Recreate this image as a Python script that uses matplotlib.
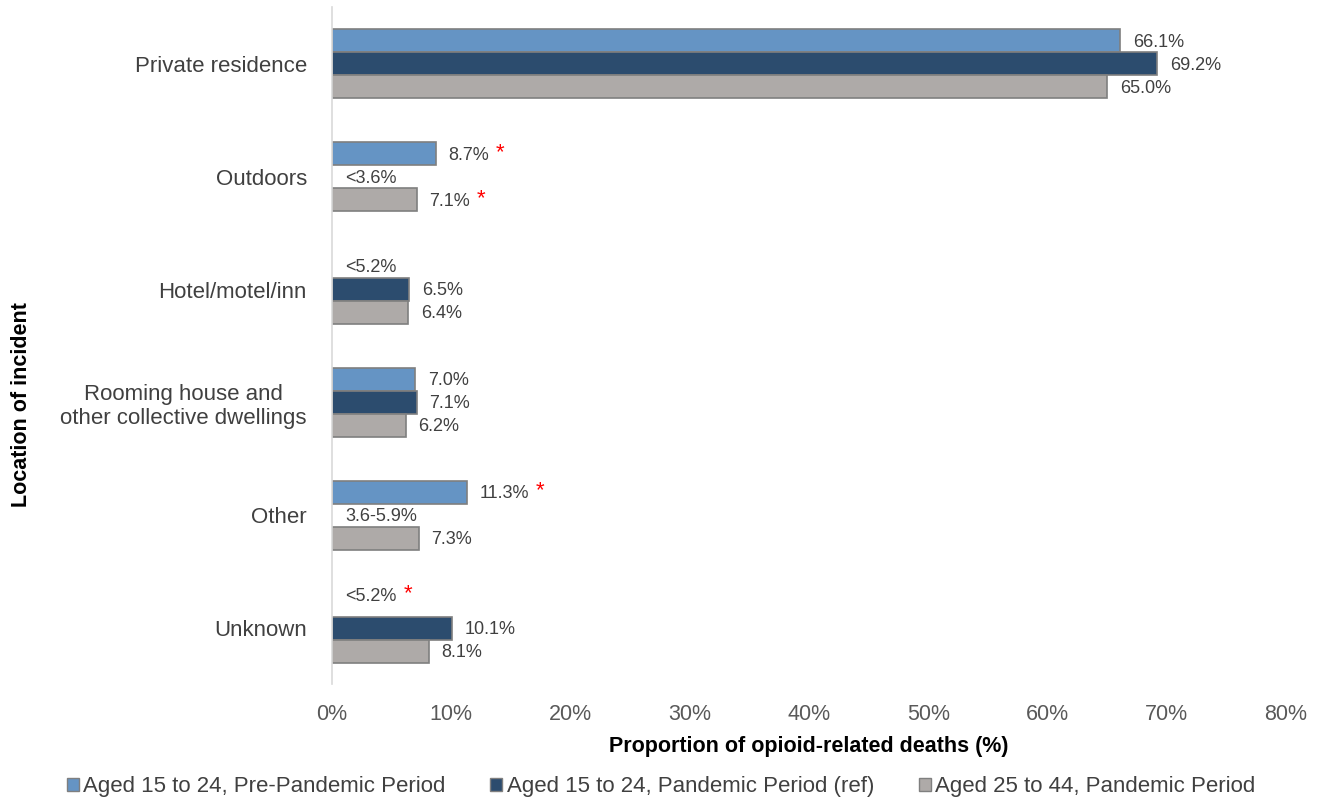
import matplotlib.pyplot as plt
from matplotlib.patches import Patch

plt.rcParams['font.family'] = ['Liberation Sans', 'DejaVu Sans']

categories = ['Private residence', 'Outdoors', 'Hotel/motel/inn',
              'Rooming house and\nother collective dwellings', 'Other', 'Unknown']
series_names = ['Aged 15 to 24, Pre-Pandemic Period',
                'Aged 15 to 24, Pandemic Period (ref)',
                'Aged 25 to 44, Pandemic Period']

# None = suppressed value (no bar drawn, only the label)
pre_1524 = [66.1, 8.7, None, 7.0, 11.3, None]
pan_1524 = [69.2, None, 6.5, 7.1, None, 10.1]
pan_2544 = [65.0, 7.1, 6.4, 6.2, 7.3, 8.1]

pre_labels = ['66.1%', '8.7%', '<5.2%', '7.0%', '11.3%', '<5.2%']
pan_labels = ['69.2%', '<3.6%', '6.5%', '7.1%', '3.6-5.9%', '10.1%']
old_labels = ['65.0%', '7.1%', '6.4%', '6.2%', '7.3%', '8.1%']

pre_star = [False, True, False, False, True, True]
pan_star = [False, False, False, False, False, False]
old_star = [False, True, False, False, False, False]

colors = ['#6594C4', '#2C4C6E', '#AEAAA8']
edge = '#7F7F7F'

fig = plt.figure(figsize=(13.22, 8.05), dpi=100)
ax = fig.add_axes([0.2511, 0.1497, 0.9728 - 0.2511, 0.9907 - 0.1497])

h = 0.204
all_vals = [pre_1524, pan_1524, pan_2544]
all_labels = [pre_labels, pan_labels, old_labels]
all_stars = [pre_star, pan_star, old_star]

for j in range(3):
    for i in range(len(categories)):
        y = i + (j - 1) * h
        v = all_vals[j][i]
        if v is not None:
            ax.barh(y, v, height=h, color=colors[j], edgecolor=edge, linewidth=1.2)
            x0, dx = v, 9
        else:
            x0, dx = 0, 9.5
        dy = 0
        if v is None and i == 5:
            dy = 7
        t = ax.annotate(all_labels[j][i], xy=(x0, y), xytext=(dx, -1 + dy),
                        textcoords='offset points', va='center', ha='left',
                        fontsize=13, color='#404040')
        if all_stars[j][i]:
            ax.annotate('*', xy=(1, 0.5), xycoords=t, xytext=(5, 2),
                        textcoords='offset points', va='center', ha='left',
                        fontsize=16, color='red')

ax.set_xlim(0, 80)
ax.set_ylim(5.5, -0.5)
ax.set_xticks(range(0, 81, 10))
ax.set_xticklabels([f'{x}%' for x in range(0, 81, 10)])
ax.set_yticks(range(len(categories)))
ax.set_yticklabels(categories, multialignment='center')
ax.tick_params(axis='x', length=0, labelsize=15.5, labelcolor='#595959', pad=14)
ax.tick_params(axis='y', length=0, labelsize=16, labelcolor='#404040', pad=18)
for s in ['top', 'right', 'bottom']:
    ax.spines[s].set_visible(False)
ax.spines['left'].set_color('#D9D9D9')
ax.spines['left'].set_linewidth(1.2)

ax.set_xlabel('Proportion of opioid-related deaths (%)', fontsize=15.5,
              fontweight='bold', labelpad=8)
fig.text(0.0165, 0.497, 'Location of incident', rotation=90, fontsize=15.5,
         fontweight='bold', va='center', ha='center')

handles = [Patch(facecolor=c, edgecolor=edge) for c in colors]
fig.legend(handles, series_names, loc='lower center', ncol=3, frameon=False,
           fontsize=16, handlelength=0.55, handleheight=0.55, handletextpad=0.2,
           columnspacing=2.0, bbox_to_anchor=(0.5, -0.015), labelcolor='#404040')

fig.savefig('out.png', dpi=100)
